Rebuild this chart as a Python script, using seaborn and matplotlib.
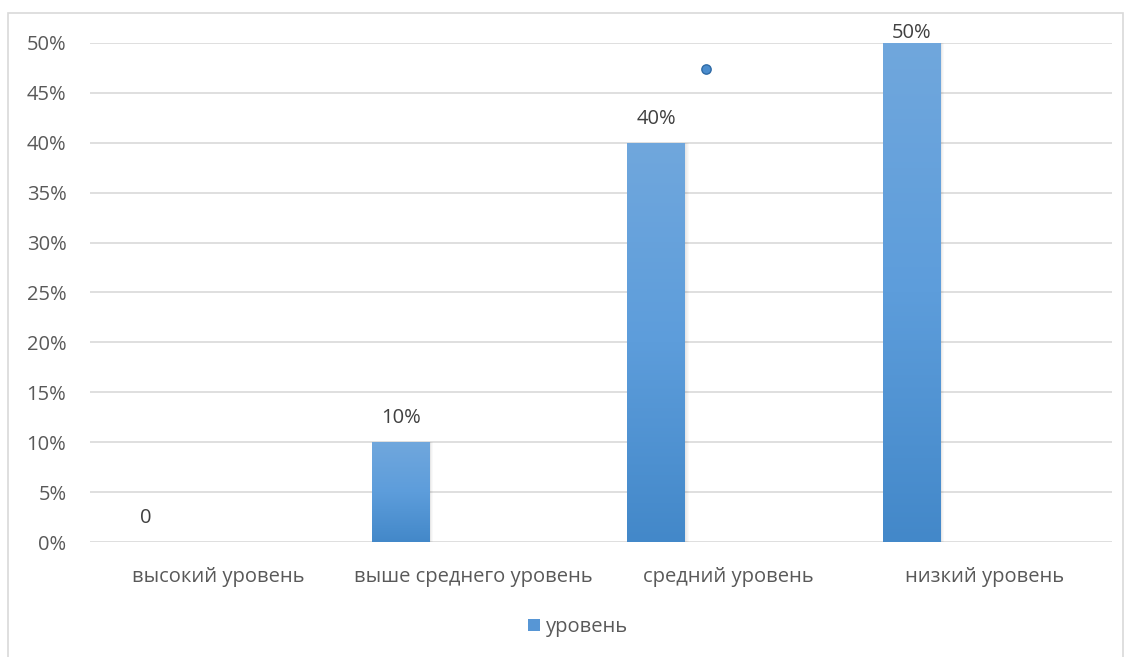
import numpy as np
import pandas as pd
import matplotlib
matplotlib.use("Agg")
import matplotlib.pyplot as plt
from matplotlib.patches import Rectangle
from matplotlib.colors import LinearSegmentedColormap
from matplotlib.ticker import MultipleLocator, FuncFormatter
import seaborn as sns

categories = ["высокий уровень", "выше среднего уровень", "средний уровень", "низкий уровень"]
values = [0.0, 0.10, 0.40, 0.50]
value_labels = ["0", "10%", "40%", "50%"]
series_name = "уровень"
# lone marker of a second series
marker_cat = 1.91
marker_val = 0.474

sns.set_theme(style="white")
plt.rcParams['font.family'] = ['Open Sans', 'DejaVu Sans']
text_color = "#595959"
grid_color = "#d9d9d9"
fs = 14.5

fig = plt.figure(figsize=(11.26, 6.57), dpi=100)
ax = fig.add_axes([90 / 1126, 1 - 542 / 657, (1112 - 90) / 1126, (542 - 43) / 657])

df = pd.DataFrame({"cat": categories, "val": values, "series": series_name})
sns.barplot(data=df, x="cat", y="val", hue="series", width=0.227, palette=["#5b9bd5"],
            ax=ax, legend=False, zorder=3)

# shift bars to the left slot of each category and paint vertical gradient
cmap = LinearSegmentedColormap.from_list("bar", ["#4388c9", "#5d9ddb", "#70a7dd"])
offset = -0.283
for p in ax.patches:
    p.set_x(p.get_x() + offset)
    x0, w, h = p.get_x(), p.get_width(), p.get_height()
    p.set_facecolor("none")
    p.set_edgecolor("none")
    if h <= 0:
        continue
    # soft shadow on the right side
    for k in range(4):
        sh = Rectangle((x0 + w, 0), 0.003 * (k + 1), h, facecolor="#000000",
                       alpha=0.022, edgecolor="none", zorder=2.5)
        ax.add_patch(sh)
    grad = np.linspace(0, 1, 256).reshape(-1, 1)
    im = ax.imshow(grad, cmap=cmap, aspect="auto", extent=(x0, x0 + w, 0, h),
                   origin="lower", zorder=3)
    im.set_clip_path(p)

for i, (v, lab) in enumerate(zip(values, value_labels)):
    ytxt = min(v + 0.014, 0.5)
    ax.text(i + offset, ytxt, lab, ha="center", va="bottom",
            fontsize=fs, color="#404040", zorder=5, clip_on=False)

sns.scatterplot(x=[marker_cat], y=[marker_val], ax=ax, s=45, color="#4a8ccd",
                edgecolor="#2e6aa5", linewidth=1.0, zorder=5, legend=False)

ax.set_xlim(-0.5, 3.5)
ax.set_ylim(0, 0.5)
ax.yaxis.set_major_locator(MultipleLocator(0.05))
ax.yaxis.set_major_formatter(FuncFormatter(lambda y, _: f"{y * 100:.0f}%"))
ax.set_xticks(range(len(categories)))
ax.set_xticklabels(categories)
ax.grid(axis="y", color=grid_color, linewidth=1.2, zorder=0)
ax.set_axisbelow(True)
for s in ax.spines.values():
    s.set_visible(False)
ax.tick_params(axis="both", length=0, labelsize=fs, labelcolor=text_color)
ax.tick_params(axis="x", pad=18)
ax.tick_params(axis="y", pad=17)
ax.set_xlabel("")
ax.set_ylabel("")

# legend
handle = Rectangle((0, 0), 1, 1, facecolor="#5796d5", edgecolor="none")
fig.legend([handle], [series_name], loc="center", bbox_to_anchor=(578 / 1126, 1 - 627 / 657),
           frameon=False, fontsize=fs, labelcolor=text_color, handlelength=0.6,
           handleheight=0.6, handletextpad=0.25)

# chart area border
fig.add_artist(Rectangle((8 / 1126, -0.01), (1123 - 8) / 1126, (657 - 13) / 657 + 0.01,
                         transform=fig.transFigure, facecolor="none",
                         edgecolor="#d9d9d9", linewidth=1.2))

fig.savefig("out.png", dpi=100, facecolor="white")
